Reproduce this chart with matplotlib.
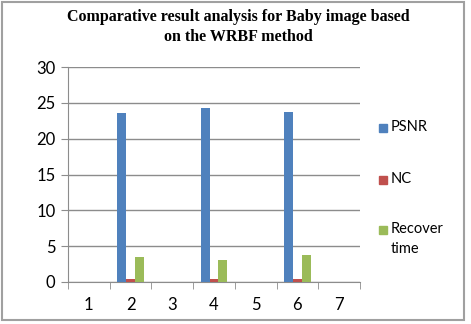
import numpy as np
import matplotlib
matplotlib.use("Agg")
import matplotlib.pyplot as plt
from matplotlib.patches import Rectangle

categories = ["1", "2", "3", "4", "5", "6", "7"]
psnr = [0, 23.6, 0, 24.3, 0, 23.7, 0]
nc = [0, 0.4, 0, 0.4, 0, 0.4, 0]
recover_time = [0, 3.5, 0, 3.1, 0, 3.8, 0]
series_names = ["PSNR", "NC", "Recover\ntime"]
colors = ["#4F81BD", "#C0504D", "#9BBB59"]

plt.rcParams['font.family'] = ['Lato', 'DejaVu Sans']

fig = plt.figure(figsize=(4.71, 3.24), dpi=100)
ax = fig.add_axes([68 / 471, 1 - 282 / 324, (360 - 68) / 471, (282 - 67) / 324])

x = np.arange(1, len(categories) + 1)
w = 0.215
for i, (vals, c) in enumerate(zip([psnr, nc, recover_time], colors)):
    ax.bar(x + (i - 1) * w, vals, width=w, color=c, zorder=3)

ax.set_xlim(0.5, 7.5)
ax.set_ylim(0, 30)
ax.set_yticks(range(0, 31, 5))
ax.set_xticks(x)
ax.set_xticklabels(categories)
ax.set_xticks(np.arange(0.5, 8, 1), minor=True)
ax.tick_params(axis='x', which='major', length=0, pad=11, labelsize=12)
ax.tick_params(axis='x', which='minor', length=5, color="#8c8c8c", direction='out')
ax.tick_params(axis='y', length=5, color="#8c8c8c", labelsize=12, pad=4)
ax.grid(axis='y', color="#8c8c8c", linewidth=1, zorder=0)
for s in ['top', 'right']:
    ax.spines[s].set_visible(False)
for s in ['left', 'bottom']:
    ax.spines[s].set_color("#8c8c8c")

# legend drawn by hand to match the spaced layout
leg_y = [128, 180, 230]
for name, c, yy in zip(series_names, colors, leg_y):
    fig.patches.append(Rectangle((379 / 471, 1 - (yy + 4) / 324), 8 / 471, 8 / 324,
                                 transform=fig.transFigure, color=c))
    fig.text(391 / 471, 1 - (yy - 8) / 324, name, fontsize=10.5, va='top', ha='left',
             linespacing=1.55)

fig.text(0.506, 1 - 9 / 324, "Comparative result analysis for Baby image based\non the WRBF method",
         ha='center', va='top', fontsize=11.5, fontweight='bold', family='Liberation Serif',
         linespacing=1.35)

fig.patches.append(Rectangle((2 / 471, 1 - 320 / 324), 462 / 471, 318 / 324,
                             transform=fig.transFigure, fill=False, edgecolor="#a0a0a0", linewidth=1.5))

fig.savefig("out.png", dpi=100)
